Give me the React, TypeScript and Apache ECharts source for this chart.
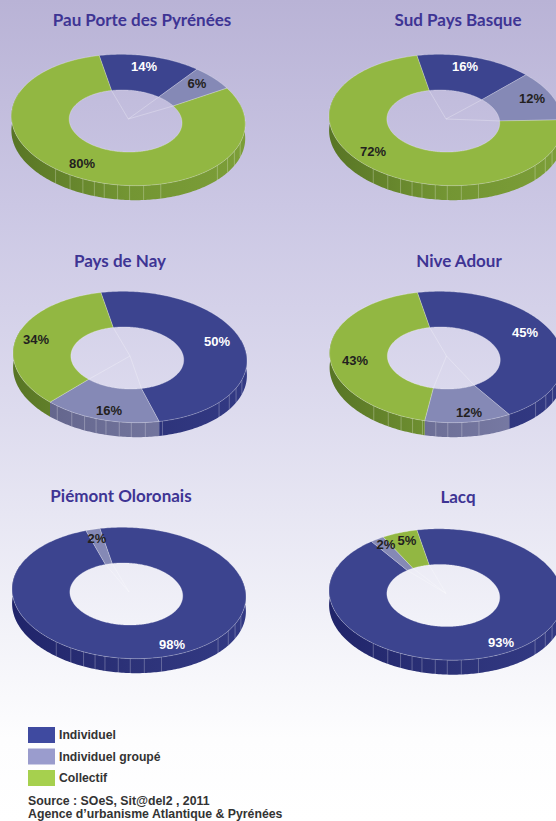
import React, { useEffect, useRef } from "react";
import * as echarts from "echarts";

const territories = ["Pau Porte des Pyrénées", "Sud Pays Basque", "Pays de Nay", "Nive Adour", "Piémont Oloronais", "Lacq"];
const categories = ["Individuel", "Individuel groupé", "Collectif"];
const individuel = [14, 16, 50, 45, 98, 93];
const groupe = [6, 12, 16, 12, 2, 2];
const collectif = [80, 72, 34, 43, 0, 5];
const sourceLines = ["Source : SOeS, Sit@del2 , 2011", "Agence d\u2019urbanisme Atlantique & Pyrénées"];

const seriesValues = [individuel, groupe, collectif];

// layout (not data)
const centers = [[128.3, 120], [446, 120], [130, 357], [446.5, 357], [129, 593], [446, 594.5]];
const titleAt = [[142, 20], [458, 20], [120, 261], [459, 261], [121, 496], [458, 497]];
const labelAt = [
  [[144, 66], [465, 66], [217, 341], [525, 332], [172, 644], [501, 642]],
  [[197, 83], [532, 98], [109, 410], [469, 412], [97, 538], [386, 544]],
  [[82, 163], [373, 151], [36, 339], [355, 360], null, [407, 540]],
];
const RX = 117, RY = 65.5, DEPTH = 14.5, IRX = 56.5, IRY = 31, IDX = -2.7, IDY = 1, START = -16;
const TILT = (2.8 * Math.PI) / 180;
const faceColors = ["#3c448f", "#8589b6", "#92b742"];
const wallStops = [
  ["#20246a", "#2c3278", "#333a84"],
  ["#5f6188", "#6f7199", "#7c7faa"],
  ["#587525", "#739533", "#7c9e38"],
];
const legendColors = ["#3f4aa0", "#9a9ccd", "#a6d04e"];
const labelColors = ["#ffffff", "#231f20", "#231f20"];
const tickAngles = [-38.6, -30, -23, -17, -12, -5.4, 0.5, 7.4, 16, 49.5, 58, 65, 73];
const FONT = "Liberation Sans, Arial, sans-serif";

const rad = (d: number) => (d * Math.PI) / 180;

function makeRenderItem(cat: number) {
  return (_params: any, api: any) => {
    const t = api.value(0);
    const v = api.value(1);
    if (!v) return null;
    let before = 0;
    for (let c = 0; c < cat; c++) before += seriesValues[c][t];
    const a0 = START + (before / 100) * 360;
    const a1 = a0 + (v / 100) * 360;
    const [cx, cy] = centers[t];
    const ell = (ox: number, oy: number, rx: number, ry: number, a: number, dy = 0) => {
      const x = rx * Math.sin(rad(a));
      const y = -ry * Math.cos(rad(a));
      return [ox + x * Math.cos(TILT) - y * Math.sin(TILT), oy + x * Math.sin(TILT) + y * Math.cos(TILT) + dy];
    };
    const outer = (a: number, dy = 0) => ell(cx, cy, RX, RY, a, dy);
    const inner = (a: number) => ell(cx + IDX, cy + IDY, IRX, IRY, a);
    const n = Math.max(4, Math.ceil(a1 - a0));
    const pts: number[][] = [];
    for (let i = 0; i <= n; i++) pts.push(outer(a0 + ((a1 - a0) * i) / n));
    for (let i = n; i >= 0; i--) pts.push(inner(a0 + ((a1 - a0) * i) / n));
    const children: any[] = [];
    // side wall (front part only; whatever reaches further back sits under the top face)
    const visible: [number, number][] = [];
    for (const off of [0, 360]) {
      const s = Math.max(a0, 70 + off);
      const e = Math.min(a1, 290 + off);
      if (e > s) visible.push([s, e]);
    }
    const tickStroke = "rgba(255,255,255,0.38)";
    visible.forEach(([s, e]) => {
      const m = Math.max(3, Math.ceil(e - s));
      const w: number[][] = [];
      for (let i = 0; i <= m; i++) w.push(outer(s + ((e - s) * i) / m));
      for (let i = m; i >= 0; i--) w.push(outer(s + ((e - s) * i) / m, DEPTH));
      const stops = wallStops[cat];
      children.push({
        type: "polygon",
        z2: 5,
        shape: { points: w },
        style: {
          fill: new echarts.graphic.LinearGradient(cx - RX, 0, cx + RX, 0, [
            { offset: 0, color: stops[0] },
            { offset: 0.5, color: stops[1] },
            { offset: 1, color: stops[2] },
          ], true),
        },
      });
      const marks = tickAngles.map((a) => 180 - a - 1.7).filter((a) => {
        return (a > s && a < e) || (a + 360 > s && a + 360 < e);
      });
      marks.forEach((a) => {
        const p = outer(a);
        children.push({
          type: "line",
          z2: 6,
          shape: { x1: p[0], y1: p[1], x2: p[0], y2: p[1] + DEPTH },
          style: { stroke: tickStroke, lineWidth: 0.7 },
        });
      });
    });
    // top face
    children.push({
      type: "polygon",
      z2: 10,
      shape: { points: pts },
      style: { fill: faceColors[cat], stroke: "rgba(255,255,255,0.42)", lineWidth: 0.6 },
    });
    // spoke inside the hole
    const ip = inner(a0);
    children.push({
      type: "line",
      z2: 11,
      shape: { x1: cx, y1: cy - 1, x2: ip[0], y2: ip[1] },
      style: { stroke: "rgba(255,255,255,0.38)", lineWidth: 0.7 },
    });
    // label
    const at = labelAt[cat][t];
    if (at) {
      children.push({
        type: "text",
        z2: 100,
        style: {
          text: v + "%",
          x: at[0],
          y: at[1],
          align: "center",
          verticalAlign: "middle",
          font: `bold 13px ${FONT}`,
          fill: labelColors[cat],
        },
      });
    }
    return { type: "group", children };
  };
}

export default function App() {
  const ref = useRef<HTMLDivElement>(null);
  useEffect(() => {
    document.body.style.margin = "0";
    document.body.style.overflow = "hidden";
    const chart = echarts.init(ref.current!, undefined, { renderer: "svg" });
    chart.setOption({
      animation: false,
      backgroundColor: new echarts.graphic.LinearGradient(0, 0, 0, 1, [
        { offset: 0, color: "#b9b3d6" },
        { offset: 0.25, color: "#cbc7e4" },
        { offset: 0.5, color: "#dddbee" },
        { offset: 0.75, color: "#f1f1f8" },
        { offset: 0.9, color: "#fdfdfe" },
        { offset: 1, color: "#ffffff" },
      ]),
      title: territories.map((name, i) => ({
        text: name,
        left: titleAt[i][0],
        top: titleAt[i][1] - 10,
        textAlign: "center",
        padding: 0,
        textStyle: { fontFamily: "Lato, sans-serif", fontWeight: "bold", fontSize: 17, color: "#3e3494", lineHeight: 18 },
      })),
      legend: {
        orient: "vertical",
        left: 28,
        top: 727,
        padding: 0,
        itemWidth: 27,
        itemHeight: 16,
        itemGap: 5.5,
        icon: "rect",
        selectedMode: false,
        data: categories,
        textStyle: { fontFamily: FONT, fontWeight: "bold", fontSize: 12.2, color: "#333333", padding: [2, 0, 0, -1] },
      },
      series: categories.map((name, c) => ({
        type: "custom",
        name,
        coordinateSystem: "none",
        silent: true,
        clip: false,
        itemStyle: { color: legendColors[c] },
        data: seriesValues[c].map((v, i) => [i, v]),
        renderItem: makeRenderItem(c),
      })),
      graphic: sourceLines.map((text, i) => ({
        type: "text",
        x: 28,
        y: 801 + i * 12.8,
        style: { text, font: `bold 12.3px ${FONT}`, fill: "#333333", verticalAlign: "middle" },
      })),
    });
    return () => chart.dispose();
  }, []);
  return <div ref={ref} style={{ width: 556, height: 821 }} />;
}
